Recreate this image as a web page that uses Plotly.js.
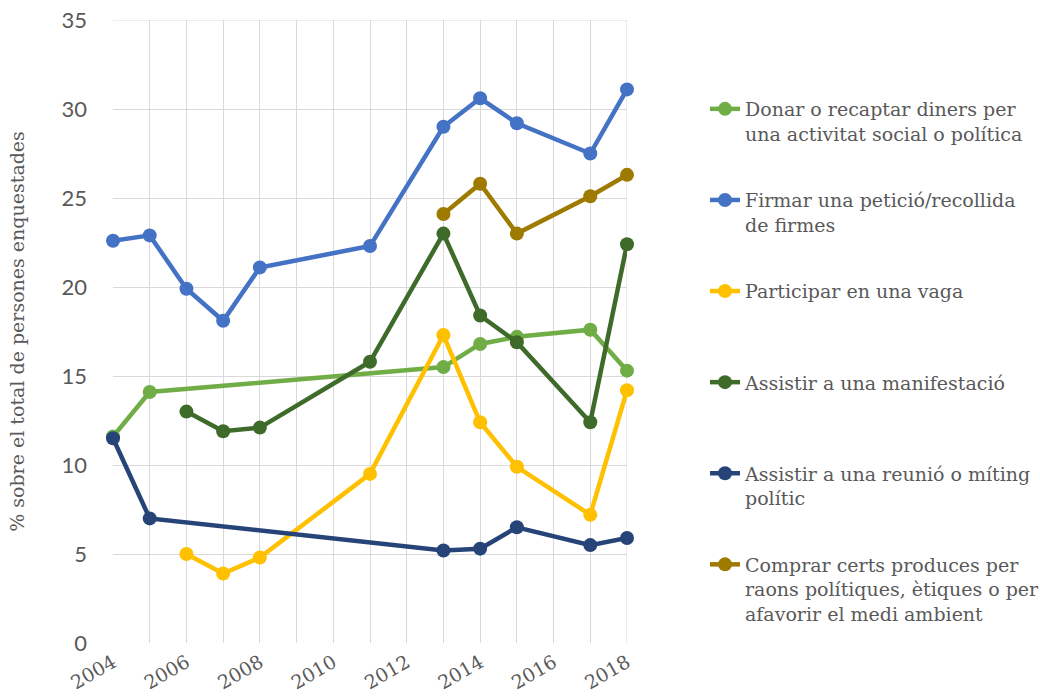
<!DOCTYPE html>
<html><head><meta charset="utf-8">
<script src="https://cdn.plot.ly/plotly-3.0.1.min.js"></script>
<style>body{margin:0;background:#fff}#chart{width:1040px;height:697px}</style>
</head><body><div id="chart"></div>
<script>
const yearTicks = [2004,2005,2006,2007,2008,2009,2010,2011,2012,2013,2014,2015,2016,2017,2018];
const yearTickText = ["2004","","2006","","2008","","2010","","2012","","2014","","2016","","2018"];

const donarYears = [2004,2005,2013,2014,2015,2017,2018];
const donarVals  = [11.6,14.1,15.5,16.8,17.2,17.6,15.3];

const firmarYears = [2004,2005,2006,2007,2008,2011,2013,2014,2015,2017,2018];
const firmarVals  = [22.6,22.9,19.9,18.1,21.1,22.3,29.0,30.6,29.2,27.5,31.1];

const vagaYears = [2006,2007,2008,2011,2013,2014,2015,2017,2018];
const vagaVals  = [5.0,3.9,4.8,9.5,17.3,12.4,9.9,7.2,14.2];

const manifYears = [2006,2007,2008,2011,2013,2014,2015,2017,2018];
const manifVals  = [13.0,11.9,12.1,15.8,23.0,18.4,16.9,12.4,22.4];

const reunioYears = [2004,2005,2013,2014,2015,2017,2018];
const reunioVals  = [11.5,7.0,5.2,5.3,6.5,5.5,5.9];

const comprarYears = [2013,2014,2015,2017,2018];
const comprarVals  = [24.1,25.8,23.0,25.1,26.3];

const names = [
  "Donar o recaptar diners per<br>una activitat social o política<br> ",
  "Firmar una petició/recollida<br>de firmes<br> ",
  "Participar en una vaga<br> <br> ",
  "Assistir a una manifestació<br> <br> ",
  "Assistir a una reunió o míting<br>polític<br> ",
  "Comprar certs produces per<br>raons polítiques, ètiques o per<br>afavorir el medi ambient"
];
const colors = ["#70AD47","#4472C4","#FFC000","#3F6B2A","#264478","#9E7A00"];
const xs = [donarYears, firmarYears, vagaYears, manifYears, reunioYears, comprarYears];
const ys = [donarVals, firmarVals, vagaVals, manifVals, reunioVals, comprarVals];

const serif = 'DejaVu Serif';

const traces = names.map((n,i)=>({
  type:'scatter', mode:'lines+markers', name:n, x:xs[i], y:ys[i],
  line:{color:colors[i], width:4.5}, marker:{color:colors[i], size:14},
  cliponaxis:false, legendgroup:'g'+i
}));

const layout = {
  width:1040, height:697,
  margin:{l:113, r:413, t:20, b:54, autoexpand:false},
  paper_bgcolor:'#fff', plot_bgcolor:'#fff',
  showlegend:true,
  legend:{x:(705-113)/514, xref:'paper', y:(643-90)/623, yref:'paper', yanchor:'top', xanchor:'left',
    valign:'top', tracegroupgap:14, traceorder:'grouped', maxheight:690,
    font:{family:serif, size:19, color:'#595959'}},
  xaxis:{range:[2004,2018], tickvals:yearTicks, ticktext:yearTickText, tickangle:-30,
    showgrid:true, gridcolor:'#D9D9D9', gridwidth:1, zeroline:false, showline:false,
    ticks:'', ticklabelstandoff:4, tickfont:{family:serif, size:19, color:'#595959'}},
  yaxis:{range:[0,35], dtick:5, showgrid:true, gridcolor:'#D9D9D9', gridwidth:1,
    zeroline:false, showline:false, ticks:'', ticklabelstandoff:25,
    tickfont:{family:'Lato', size:22, color:'#595959'},
    title:{text:'% sobre el total de persones enquestades', standoff:31,
      font:{family:serif, size:19, color:'#595959'}}},
  shapes:[{type:'line', xref:'x', yref:'y', x0:2018, x1:2018, y0:0, y1:35, line:{color:'#D9D9D9', width:1}, layer:'below'},
          {type:'line', xref:'x', yref:'y', x0:2004, x1:2018, y0:35, y1:35, line:{color:'#D9D9D9', width:1}, layer:'below'}]
};
Plotly.newPlot('chart', traces, layout, {displayModeBar:false, staticPlot:true});
</script></body></html>
